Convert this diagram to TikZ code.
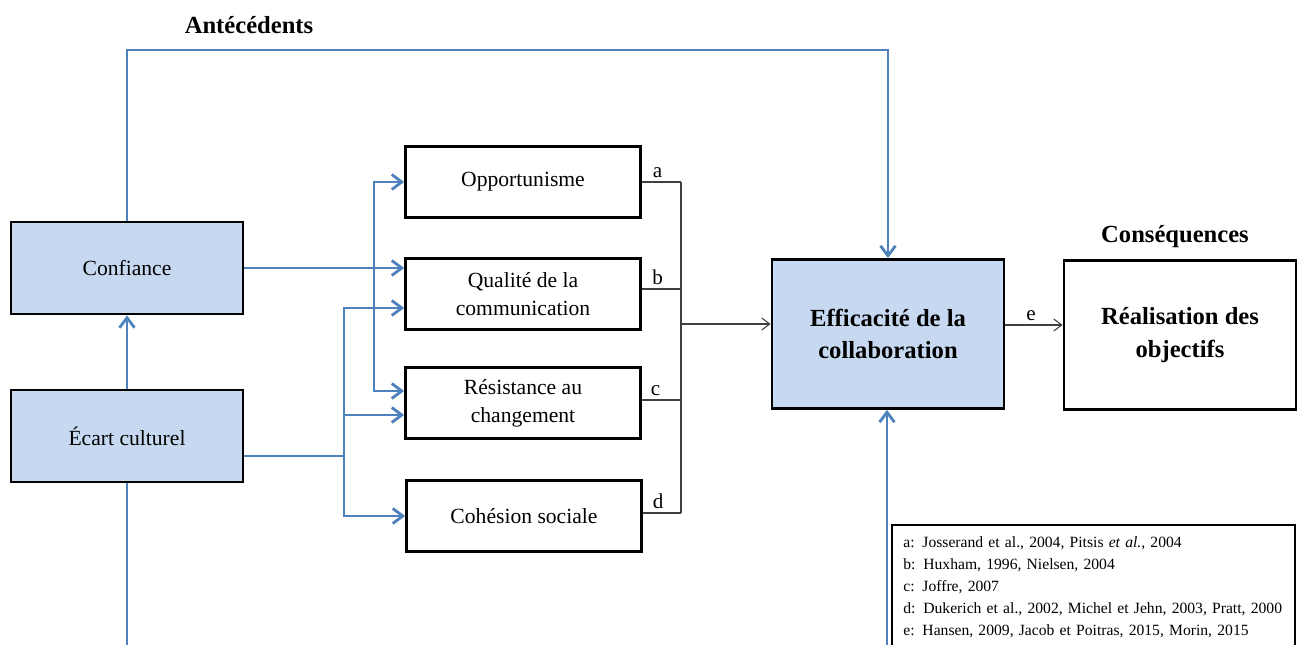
\documentclass[tikz,border=0pt]{standalone}
\usepackage{fontspec}
\setmainfont{Liberation Serif}
\usetikzlibrary{positioning, calc, arrows.meta}
\definecolor{linkblue}{RGB}{79,129,189}
\definecolor{boxblue}{RGB}{198,217,241}

\begin{document}
\begin{tikzpicture}[x=0.02cm, y=-0.02cm]

\tikzstyle{factor}=[draw=black, rectangle, line width=1.6pt, fill=boxblue, minimum width=4.64cm, minimum height=1.84cm, align=center, font=\fontsize{12.3}{16}\selectfont]
\tikzstyle{mediator}=[draw=black, rectangle, line width=1.6pt, minimum width=4.7cm, minimum height=1.42cm, align=center, font=\fontsize{12.3}{16}\selectfont]
\tikzstyle{outcome}=[draw=black, rectangle, line width=1.6pt, minimum width=4.64cm, minimum height=2.98cm, align=center, font=\bfseries\fontsize{14}{18.5}\selectfont]
\tikzstyle{heading}=[font=\bfseries\fontsize{14}{16}\selectfont]
\tikzstyle{link}=[draw=linkblue, line width=1.6pt, -{Straight Barb[length=2mm, width=3mm]}]
\tikzstyle{trunk}=[draw=linkblue, line width=1.6pt]
\tikzstyle{ref}=[draw=black!75, line width=0.6pt]
\tikzstyle{refarrow}=[draw=black!75, line width=0.6pt, -{Straight Barb[length=1.6mm, width=2.4mm]}]
\tikzstyle{letter}=[font=\fontsize{12}{14}\selectfont, inner sep=2pt]

\useasboundingbox (0, 0) rectangle (1307, 645);

% antecedents
\node [heading] (antecedents) at (249, 25) {Antécédents};
\node [factor] (confiance) at (127, 268) {Confiance};
\node [factor] (ecart) at (127, 436) {Écart culturel};

% mediators
\node [mediator] (opportunisme) at (523, 182) {Opportunisme};
\node [mediator] (qualite) at (523, 294) {Qualité de la\\communication};
\node [mediator] (resistance) at (523, 403) {Résistance au\\changement};
\node [mediator] (cohesion) at (524, 516) {Cohésion sociale};

% outcomes
\node [outcome, fill=boxblue] (efficacite) at (888, 334) {Efficacité de la\\collaboration};
\node [outcome] (realisation) at (1180, 335) {Réalisation des\\objectifs};
\node [heading] (consequences) at (1175, 237) {Conséquences};

% references
\node [anchor=north west, inner xsep=0.22cm, inner ysep=6.5pt, text width=7.6cm, align=left, font=\fontsize{8.9}{12.5}\selectfont] (refs) at (892, 525)
  {a: Josserand et al., 2004, Pitsis \textit{et al.}, 2004\\
   b: Huxham, 1996, Nielsen, 2004\\
   c: Joffre, 2007\\
   d: Dukerich et al., 2002, Michel et Jehn, 2003, Pratt, 2000\\
   e: Hansen, 2009, Jacob et Poitras, 2015, Morin, 2015};
\draw [line width=1pt] (refs.south west) |- (refs.north east) -- (refs.south east);

% blue links
\coordinate (top-right) at (888, 50);
\coordinate (ecart-foot) at (127, 660);
\coordinate (eff-foot) at (887, 660);
\coordinate (conf-bus) at (374, 268);
\coordinate (ecart-bus) at (344, 456);

\draw [link] (confiance.north) |- (top-right) -- (efficacite.north);
\draw [link] (ecart.north) -- (confiance.south);
\draw [trunk] (ecart.south) -- (ecart-foot);
\draw [link] (eff-foot) -- (eff-foot |- efficacite.south);

\draw [link] (confiance.east) -- (confiance.east -| qualite.west);
\draw [link] (conf-bus) |- (opportunisme.west);
\draw [link] (conf-bus) |- ($(resistance.west) + (0, -12)$);

\draw [trunk] (ecart.east |- ecart-bus) -- (ecart-bus);
\draw [link] (ecart-bus) |- ($(qualite.west) + (0, 14)$);
\draw [link] (ecart-bus) |- ($(resistance.west) + (0, 12)$);
\draw [link] (ecart-bus) |- (cohesion.west);

% black links
\coordinate (ref-top) at (681, 182);
\coordinate (ref-bot) at (681, 513);
\coordinate (ref-out) at (681, 324);

\draw [ref] (opportunisme.east) -- (opportunisme.east -| ref-top) node [letter, pos=0.4, above] {a};
\draw [ref] ($(qualite.east) + (0, -5)$) -- ($(qualite.east -| ref-top) + (0, -5)$) node [letter, pos=0.4, above] {b};
\draw [ref] ($(resistance.east) + (0, -3)$) -- ($(resistance.east -| ref-top) + (0, -3)$) node [letter, pos=0.35, above] {c};
\draw [ref] ($(cohesion.east) + (0, -3)$) -- ($(cohesion.east -| ref-top) + (0, -3)$) node [letter, pos=0.4, above] {d};
\draw [ref] (ref-top) -- (ref-bot);
\draw [refarrow] (ref-out) -- (ref-out -| efficacite.west);
\draw [refarrow] ($(efficacite.east) + (0, -9)$) -- ($(efficacite.east -| realisation.west) + (0, -9)$) node [letter, pos=0.45, above] {e};

\end{tikzpicture}
\end{document}
